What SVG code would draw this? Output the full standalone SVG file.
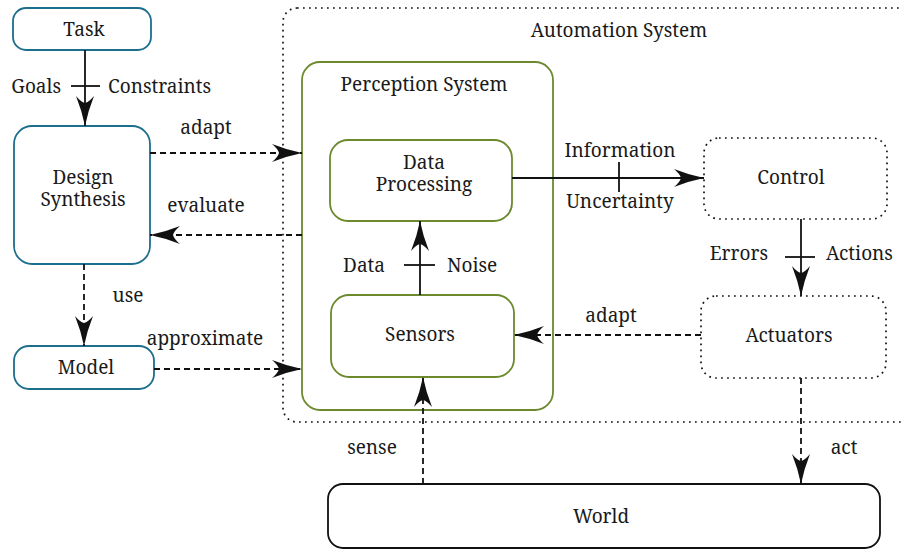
<svg xmlns="http://www.w3.org/2000/svg" width="901" height="550" viewBox="0 0 901 550" font-family="'Noto Serif', 'Liberation Serif', serif" font-size="19">
  <style>
    text { fill: #1a1a1a; }
    .c { text-anchor: middle; }
    .e { text-anchor: end; }
    .blue { fill: #ffffff; stroke: #1c6e8c; stroke-width: 1.8; }
    .green { fill: #ffffff; stroke: #6b8a2e; stroke-width: 1.8; }
    .dot { fill: none; stroke: #111; stroke-width: 1.7; stroke-dasharray: 1.7 4.3; }
    .solid { fill: #ffffff; stroke: #111; stroke-width: 1.8; }
    .ln { fill: none; stroke: #111; stroke-width: 1.8; }
    .dash { fill: none; stroke: #111; stroke-width: 1.8; stroke-dasharray: 6 4; }
    .arr { marker-end: url(#head); }
  </style>
  <defs>
    <!-- concave stealth-style arrowhead, tip at the line end -->
    <marker id="head" markerUnits="userSpaceOnUse" viewBox="-32 -10 33 20" markerWidth="33" markerHeight="20" refX="0" refY="0" orient="auto" overflow="visible">
      <path d="M0,0 Q-15,-3 -30,-9 Q-24,-4 -23,0 Q-24,4 -30,9 Q-15,3 0,0 Z" fill="#111"/>
    </marker>
  </defs>

  <!-- outer automation boundary -->
  <g id="automation-system">
    <rect class="dot" x="283" y="8" width="640" height="414" rx="14"/>
    <text class="c" x="619" y="37">Automation System</text>
  </g>

  <g id="perception-system">
    <rect class="green" x="302" y="62" width="251" height="348" rx="18"/>
    <text class="c" x="424" y="91">Perception System</text>
  </g>

  <g id="task">
    <rect class="blue" x="13" y="8" width="138" height="42" rx="13"/>
    <text class="c" x="84" y="36">Task</text>
  </g>

  <g id="design-synthesis">
    <rect class="blue" x="14" y="126" width="136" height="138" rx="18"/>
    <text class="c" x="83" y="184"><tspan x="83" y="184">Design</tspan><tspan x="83" y="206">Synthesis</tspan></text>
  </g>

  <g id="model">
    <rect class="blue" x="14" y="346" width="140" height="43" rx="15"/>
    <text class="c" x="86" y="374">Model</text>
  </g>

  <g id="data-processing">
    <rect class="green" x="330" y="140" width="182" height="81" rx="18"/>
    <text class="c" x="424" y="169"><tspan x="424" y="169">Data</tspan><tspan x="424" y="191">Processing</tspan></text>
  </g>

  <g id="sensors">
    <rect class="green" x="331" y="295" width="183" height="82" rx="18"/>
    <text class="c" x="420" y="341">Sensors</text>
  </g>

  <g id="control">
    <rect class="dot" x="704" y="138" width="183" height="81" rx="15"/>
    <text class="c" x="791" y="184">Control</text>
  </g>

  <g id="actuators">
    <rect class="dot" x="701" y="296" width="185" height="82" rx="15"/>
    <text class="c" x="789" y="342">Actuators</text>
  </g>

  <g id="world">
    <rect class="solid" x="328" y="484" width="552" height="64" rx="15"/>
    <text class="c" x="601" y="523">World</text>
  </g>

  <g id="connectors">
    <!-- task to design synthesis -->
    <line class="ln arr" x1="85" y1="50" x2="85" y2="126"/>
    <line class="ln" x1="71" y1="86" x2="100" y2="86"/>
    <text class="e" x="61" y="93">Goals</text>
    <text x="108" y="93">Constraints</text>

    <!-- design synthesis and perception system -->
    <line class="dash arr" x1="150" y1="153" x2="302" y2="153"/>
    <text class="c" x="206" y="134">adapt</text>
    <line class="dash arr" x1="302" y1="235" x2="150" y2="235"/>
    <text class="c" x="206" y="212">evaluate</text>

    <!-- design synthesis to model -->
    <line class="dash arr" x1="84" y1="264" x2="84" y2="346"/>
    <text class="c" x="128" y="302">use</text>

    <!-- model to perception system -->
    <line class="dash arr" x1="154" y1="369" x2="302" y2="369"/>
    <text class="c" x="205" y="345">approximate</text>

    <!-- sensors to data processing -->
    <line class="ln arr" x1="420" y1="295" x2="420" y2="221"/>
    <line class="ln" x1="404" y1="265" x2="435" y2="265"/>
    <text class="e" x="385" y="272">Data</text>
    <text x="447" y="272">Noise</text>

    <!-- data processing to control -->
    <line class="ln arr" x1="512" y1="178" x2="704" y2="178"/>
    <line class="ln" x1="619" y1="162" x2="619" y2="192"/>
    <text class="c" x="620" y="157">Information</text>
    <text class="c" x="620" y="208">Uncertainty</text>

    <!-- control to actuators -->
    <line class="ln arr" x1="801" y1="219" x2="801" y2="296"/>
    <line class="ln" x1="785" y1="257" x2="815" y2="257"/>
    <text class="e" x="768" y="260">Errors</text>
    <text x="826" y="260">Actions</text>

    <!-- actuators to sensors -->
    <line class="dash arr" x1="701" y1="335" x2="514" y2="335"/>
    <text class="c" x="611" y="322">adapt</text>

    <!-- world and automation system -->
    <line class="dash arr" x1="423" y1="484" x2="423" y2="377"/>
    <text class="c" x="372" y="454">sense</text>
    <line class="dash arr" x1="801" y1="378" x2="801" y2="484"/>
    <text class="c" x="844" y="454">act</text>
  </g>
</svg>
